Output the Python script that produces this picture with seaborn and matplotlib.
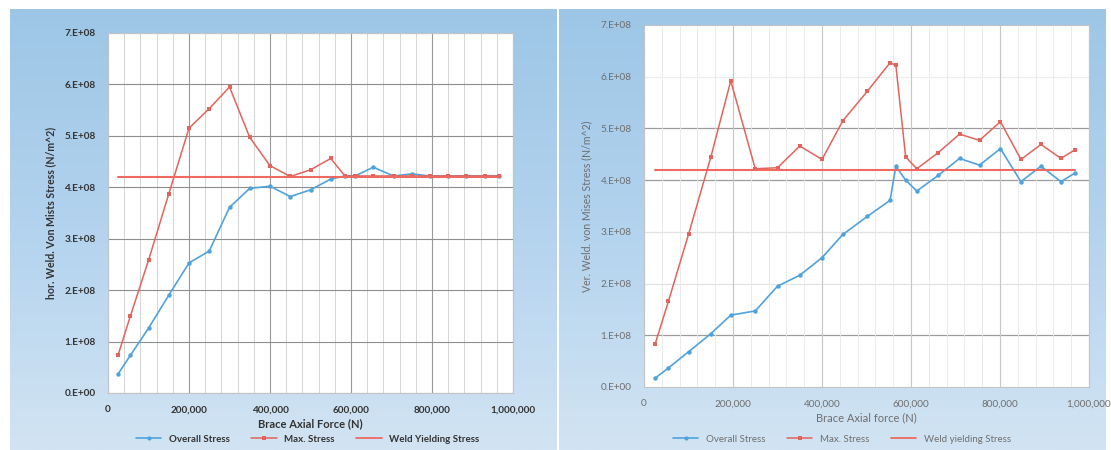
import numpy as np
import pandas as pd
import matplotlib
matplotlib.use("Agg")
import matplotlib.pyplot as plt
import seaborn as sns
from matplotlib.ticker import FuncFormatter, MultipleLocator
from matplotlib.colors import LinearSegmentedColormap
from matplotlib.lines import Line2D

# ---------------- data ----------------
left_force = [25e3, 55e3, 100e3, 150e3, 200e3, 250e3, 300e3, 350e3, 400e3, 450e3,
              500e3, 550e3, 585e3, 610e3, 655e3, 705e3, 750e3, 795e3, 840e3, 885e3,
              930e3, 965e3]
left_overall = [0.37e8, 0.73e8, 1.26e8, 1.90e8, 2.53e8, 2.76e8, 3.61e8, 3.98e8, 4.02e8, 3.82e8,
                3.95e8, 4.16e8, 4.22e8, 4.22e8, 4.39e8, 4.22e8, 4.26e8, 4.22e8, 4.22e8, 4.22e8,
                4.22e8, 4.22e8]
left_max = [0.74e8, 1.49e8, 2.58e8, 3.87e8, 5.15e8, 5.53e8, 5.95e8, 4.97e8, 4.42e8, 4.21e8,
            4.34e8, 4.56e8, 4.22e8, 4.22e8, 4.22e8, 4.22e8, 4.22e8, 4.22e8, 4.22e8, 4.22e8,
            4.22e8, 4.22e8]
left_yield = 4.2e8

right_force = [25e3, 55e3, 100e3, 150e3, 195e3, 250e3, 300e3, 350e3, 400e3, 447e3,
               502e3, 553e3, 566e3, 588e3, 613e3, 661e3, 709e3, 754e3, 801e3, 847e3,
               892e3, 937e3, 969e3]
right_overall = [0.17e8, 0.37e8, 0.68e8, 1.03e8, 1.39e8, 1.47e8, 1.95e8, 2.16e8, 2.50e8, 2.95e8,
                 3.30e8, 3.61e8, 4.27e8, 4.00e8, 3.79e8, 4.09e8, 4.42e8, 4.29e8, 4.61e8, 3.97e8,
                 4.27e8, 3.97e8, 4.14e8]
right_max = [0.83e8, 1.66e8, 2.95e8, 4.44e8, 5.92e8, 4.22e8, 4.24e8, 4.66e8, 4.40e8, 5.15e8,
             5.72e8, 6.27e8, 6.22e8, 4.45e8, 4.22e8, 4.53e8, 4.89e8, 4.77e8, 5.13e8, 4.40e8,
             4.69e8, 4.42e8, 4.59e8]
right_yield = 4.2e8

left_labels = ["Overall Stress", "Max. Stress", "Weld Yielding Stress"]
right_labels = ["Overall Stress", "Max. Stress", "Weld yielding Stress"]
left_xlabel = "Brace Axial Force (N)"
right_xlabel = "Brace Axial force (N)"
left_ylabel = "hor. Weld. Von Mists Stress (N/m^2)"
right_ylabel = "Ver. Weld. von Mises Stress (N/m^2)"

# ---------------- style ----------------
sns.set_theme(style="white")
plt.rcParams['font.family'] = ['Lato', 'DejaVu Sans']

BLUE = "#4fa3dc"
RED = "#e2645c"
YRED = "#ee6a60"

W, H = 1111, 450
fig = plt.figure(figsize=(W / 100, H / 100), dpi=100, facecolor="white")


def px_rect(x0, y0, x1, y1):
    return [x0 / W, 1 - y1 / H, (x1 - x0) / W, (y1 - y0) / H]


bg_cmap = LinearSegmentedColormap.from_list("bg", ["#9dc6e6", "#b3d3ee", "#d2e4f3"])
for (x0, x1) in [(10, 557), (559, 1106)]:
    bg = fig.add_axes(px_rect(x0, 9, x1, 450), zorder=0)
    grad = np.linspace(0, 1, 256).reshape(-1, 1)
    bg.imshow(grad, aspect="auto", cmap=bg_cmap, extent=[0, 1, 0, 1], origin="upper")
    bg.set_axis_off()

yfmt = FuncFormatter(lambda v, p: "0.E+00" if abs(v) < 1 else f"{v / 1e8:.0f}.E+08")
xfmt = FuncFormatter(lambda v, p: f"{v:,.0f}")


def draw_panel(rect, force, overall, maxs, yld, labels, xlabel, ylabel, bold, tcol, legend_x):
    ax = fig.add_axes(rect, zorder=2)
    ax.set_facecolor("white")
    df = pd.DataFrame({"force": force, "overall": overall, "max": maxs})
    ydf = pd.DataFrame({"force": [force[0], force[-1]], "yield": [yld, yld]})
    sns.lineplot(data=df, x="force", y="overall", ax=ax, color=BLUE, lw=1.2,
                 marker="o", markersize=3.2, markeredgewidth=0, sort=False, estimator=None)
    sns.lineplot(data=df, x="force", y="max", ax=ax, color=RED, lw=1.1,
                 marker="s", markersize=2.6, markeredgewidth=0, sort=False, estimator=None)
    sns.lineplot(data=ydf, x="force", y="yield", ax=ax, color=YRED, lw=1.5,
                 sort=False, estimator=None)
    ax.set_xlim(0, 1e6)
    ax.set_ylim(0, 7e8)
    ax.xaxis.set_major_locator(MultipleLocator(2e5))
    ax.xaxis.set_minor_locator(MultipleLocator(4e4))
    ax.yaxis.set_major_locator(MultipleLocator(1e8))
    ax.xaxis.set_major_formatter(xfmt)
    ax.yaxis.set_major_formatter(yfmt)
    weight = "bold" if bold else "normal"
    ax.tick_params(axis="both", which="both", length=0, labelsize=7.2, colors=tcol, pad=9)
    for lab in ax.get_xticklabels() + ax.get_yticklabels():
        lab.set_fontweight(weight)
    ax.set_xlabel(xlabel, fontsize=8, fontweight=weight, color=tcol, labelpad=3)
    ax.set_ylabel(ylabel, fontsize=7.6, fontweight=weight, color=tcol, labelpad=6)
    for s in ax.spines.values():
        s.set_color("#c4c4c4")
        s.set_linewidth(0.8)
    handles = [
        Line2D([], [], color=BLUE, lw=1.2, marker="o", markersize=3, markeredgewidth=0),
        Line2D([], [], color=RED, lw=1.1, marker="s", markersize=2.6, markeredgewidth=0),
        Line2D([], [], color=YRED, lw=1.3),
    ]
    fig.legend(handles, labels, loc="center", bbox_to_anchor=(legend_x, 0.024), ncol=3,
               frameon=False, fontsize=7, handlelength=2.6, columnspacing=2.2,
               prop={"weight": weight, "size": 7}, labelcolor=tcol)
    return ax


axL = draw_panel(px_rect(108, 33, 513, 393), left_force, left_overall, left_max, left_yield,
                 left_labels, left_xlabel, left_ylabel, True, "#333333", 0.277)
axL.grid(axis="y", which="major", color="#8e8e8e", lw=0.8)
axL.grid(axis="x", which="major", color="#9a9a9a", lw=0.8)
axL.grid(axis="x", which="minor", color="#cfcfcf", lw=0.6)
axL.set_axisbelow(True)

axR = draw_panel(px_rect(644, 25, 1089, 387), right_force, right_overall, right_max, right_yield,
                 right_labels, right_xlabel, right_ylabel, False, "#6f6f6f", 0.758)
axR.grid(axis="x", which="major", color="#c6c6c6", lw=0.8)
axR.grid(axis="x", which="minor", color="#e8e8e8", lw=0.6)
grid_shade = {1: "#9c9c9c", 2: "#e3e3e3", 3: "#e3e3e3", 4: "#9c9c9c", 5: "#9c9c9c", 6: "#ececec"}
for k, c in grid_shade.items():
    axR.axhline(k * 1e8, color=c, lw=0.9, zorder=0.5)
axR.set_axisbelow(True)

fig.savefig("out.png", dpi=100, facecolor="white")
